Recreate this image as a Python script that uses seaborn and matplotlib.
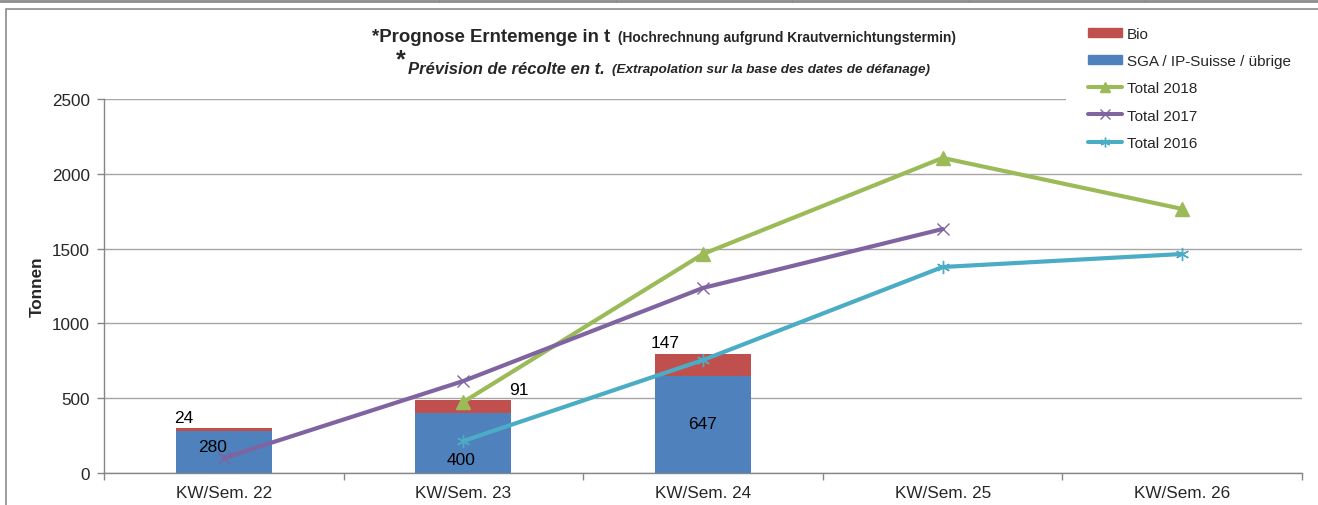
import matplotlib
matplotlib.use("Agg")
import matplotlib.pyplot as plt
import seaborn as sns
import numpy as np
import pandas as pd
from matplotlib.lines import Line2D
from matplotlib.patches import Patch, Rectangle

categories = ["KW/Sem. 22", "KW/Sem. 23", "KW/Sem. 24", "KW/Sem. 25", "KW/Sem. 26"]
sga = [280, 400, 647, None, None]
bio = [24, 91, 147, None, None]
total_2018 = [None, 475, 1464, 2106, 1765]
total_2017 = [100, 615, 1237, 1631, None]
total_2016 = [None, 214, 755, 1377, 1464]
yticks = [0, 500, 1000, 1500, 2000, 2500]

C_BIO = "#C0504D"
C_SGA = "#4F81BD"
C_18 = "#9BBB59"
C_17 = "#8064A2"
C_16 = "#4BACC6"

sns.set_theme(style="white")
plt.rcParams["font.family"] = ["Liberation Sans", "DejaVu Sans"]

W, H = 1318, 506
fig = plt.figure(figsize=(W/100, H/100), dpi=100)
ax = fig.add_axes([104/W, 1-474/H, (1302-104)/W, 374/H])

df = pd.DataFrame({"cat": categories,
                   "sga": [np.nan if v is None else v for v in sga],
                   "bio": [np.nan if v is None else v for v in bio]})
df["stack"] = df["sga"] + df["bio"]

sns.barplot(data=df, x="cat", y="stack", color=C_BIO, saturation=1, width=0.4,
            linewidth=0, edgecolor="none", ax=ax, zorder=2)
sns.barplot(data=df, x="cat", y="sga", color=C_SGA, saturation=1, width=0.4,
            linewidth=0, edgecolor="none", ax=ax, zorder=3)

pos = np.arange(len(categories))
def series(vals):
    x = [p for p, v in zip(pos, vals) if v is not None]
    y = [v for v in vals if v is not None]
    return x, y

asterisk = (6, 2, 0)
for vals, col, mk, ms, mew in [(total_2018, C_18, "^", 10, 1.0),
                               (total_2017, C_17, "x", 9, 1.0),
                               (total_2016, C_16, asterisk, 9.5, 1.0)]:
    x, y = series(vals)
    sns.lineplot(x=x, y=y, color=col, lw=3.0, marker=mk, markersize=ms,
                 markeredgecolor=col, markerfacecolor=col, markeredgewidth=mew, ax=ax, zorder=5)

# data labels (positions in data coordinates)
bio_lab_pos = [(-0.167, 368), (1.23, 555), (1.84, 869)]
sga_lab_pos = [(-0.046, 180), (0.99, 87), (2.0, 328)]
for i in range(3):
    ax.text(*bio_lab_pos[i], str(bio[i]), ha="center", va="center", fontsize=12.5, color="black", zorder=6)
    ax.text(*sga_lab_pos[i], str(sga[i]), ha="center", va="center", fontsize=12.5, color="black", zorder=6)

ax.set_xlim(-0.5, 4.5)
ax.set_ylim(0, 2500)
ax.set_yticks(yticks)
ax.set_yticklabels([str(t) for t in yticks], fontsize=12.3)
ax.set_xticks(pos)
ax.set_xticklabels(categories, fontsize=12.3)
ax.set_xticks(np.arange(-0.5, 5, 1), minor=True)
ax.tick_params(axis="x", which="major", length=0, pad=9)
ax.tick_params(axis="x", which="minor", length=5, color="#868686", width=1, direction="out", bottom=True)
ax.tick_params(axis="y", length=5, color="#868686", width=1, direction="out", left=True, pad=5)
ax.set_xlabel("")
ax.set_ylabel("")
ax.grid(axis="y", color="#A6A6A6", lw=1)
ax.set_axisbelow(True)
for s in ["top", "right"]:
    ax.spines[s].set_visible(False)
for s in ["left", "bottom"]:
    ax.spines[s].set_color("#868686")
    ax.spines[s].set_linewidth(1)

fig.text(37/W, 1-287/H, "Tonnen", rotation=90, ha="center", va="center",
         fontsize=12.3, fontweight="bold")

# white legend area covering the top gridline
fig.add_artist(Rectangle((1066/W, 1-156/H), (W-1066)/W - 0.001, (156-14)/H, transform=fig.transFigure,
                         facecolor="white", edgecolor="none", zorder=3))

# legend
handles = [Patch(color=C_BIO, label="Bio"),
           Patch(color=C_SGA, label="SGA / IP-Suisse / übrige"),
           Line2D([], [], color=C_18, lw=2.9, marker="^", ms=7, label="Total 2018"),
           Line2D([], [], color=C_17, lw=2.9, marker="x", ms=7, mew=1, label="Total 2017"),
           Line2D([], [], color=C_16, lw=2.9, marker=asterisk, ms=7, mew=1, label="Total 2016")]
leg = fig.legend(handles=handles, loc="upper left", bbox_to_anchor=(1083.4/W, 1-23.5/H),
                 frameon=False, fontsize=11, handlelength=2.25, handleheight=0.55, labelspacing=0.86,
                 handletextpad=0.3, borderpad=0.3, borderaxespad=0)
leg.set_zorder(10)

# titles
fig.text(372/W, 1-37/H, "*Prognose Erntemenge in t", ha="left", va="center",
         fontsize=13.4, fontweight="bold")
fig.text(618/W, 1-38/H, "(Hochrechnung aufgrund Krautvernichtungstermin)", ha="left", va="center",
         fontsize=9.9, fontweight="bold")
fig.text(396/W, 1-60/H, "*", ha="left", va="center", fontsize=18, fontweight="bold")
fig.text(408/W, 1-69/H, "Prévision de récolte en t.", ha="left", va="center",
         fontsize=12, fontweight="bold", style="italic")
fig.text(612/W, 1-70/H, "(Extrapolation sur la base des dates de défanage)", ha="left", va="center",
         fontsize=9.7, fontweight="bold", style="italic")

# outer frame and table row above
fig.add_artist(Rectangle((6/W, -0.01), 1.0, 1-10/H + 0.01, transform=fig.transFigure,
                         fill=False, edgecolor="#8C8C8C", lw=1.2))
fig.add_artist(Line2D([0, 1], [1-2/H, 1-2/H], transform=fig.transFigure, color="#8C8C8C", lw=2))
for xs in [439, 616, 792, 969, 1145]:
    fig.add_artist(Line2D([xs/W, xs/W], [1-3/H, 1], transform=fig.transFigure, color="#8C8C8C", lw=1))

fig.savefig("out.png", dpi=100)
